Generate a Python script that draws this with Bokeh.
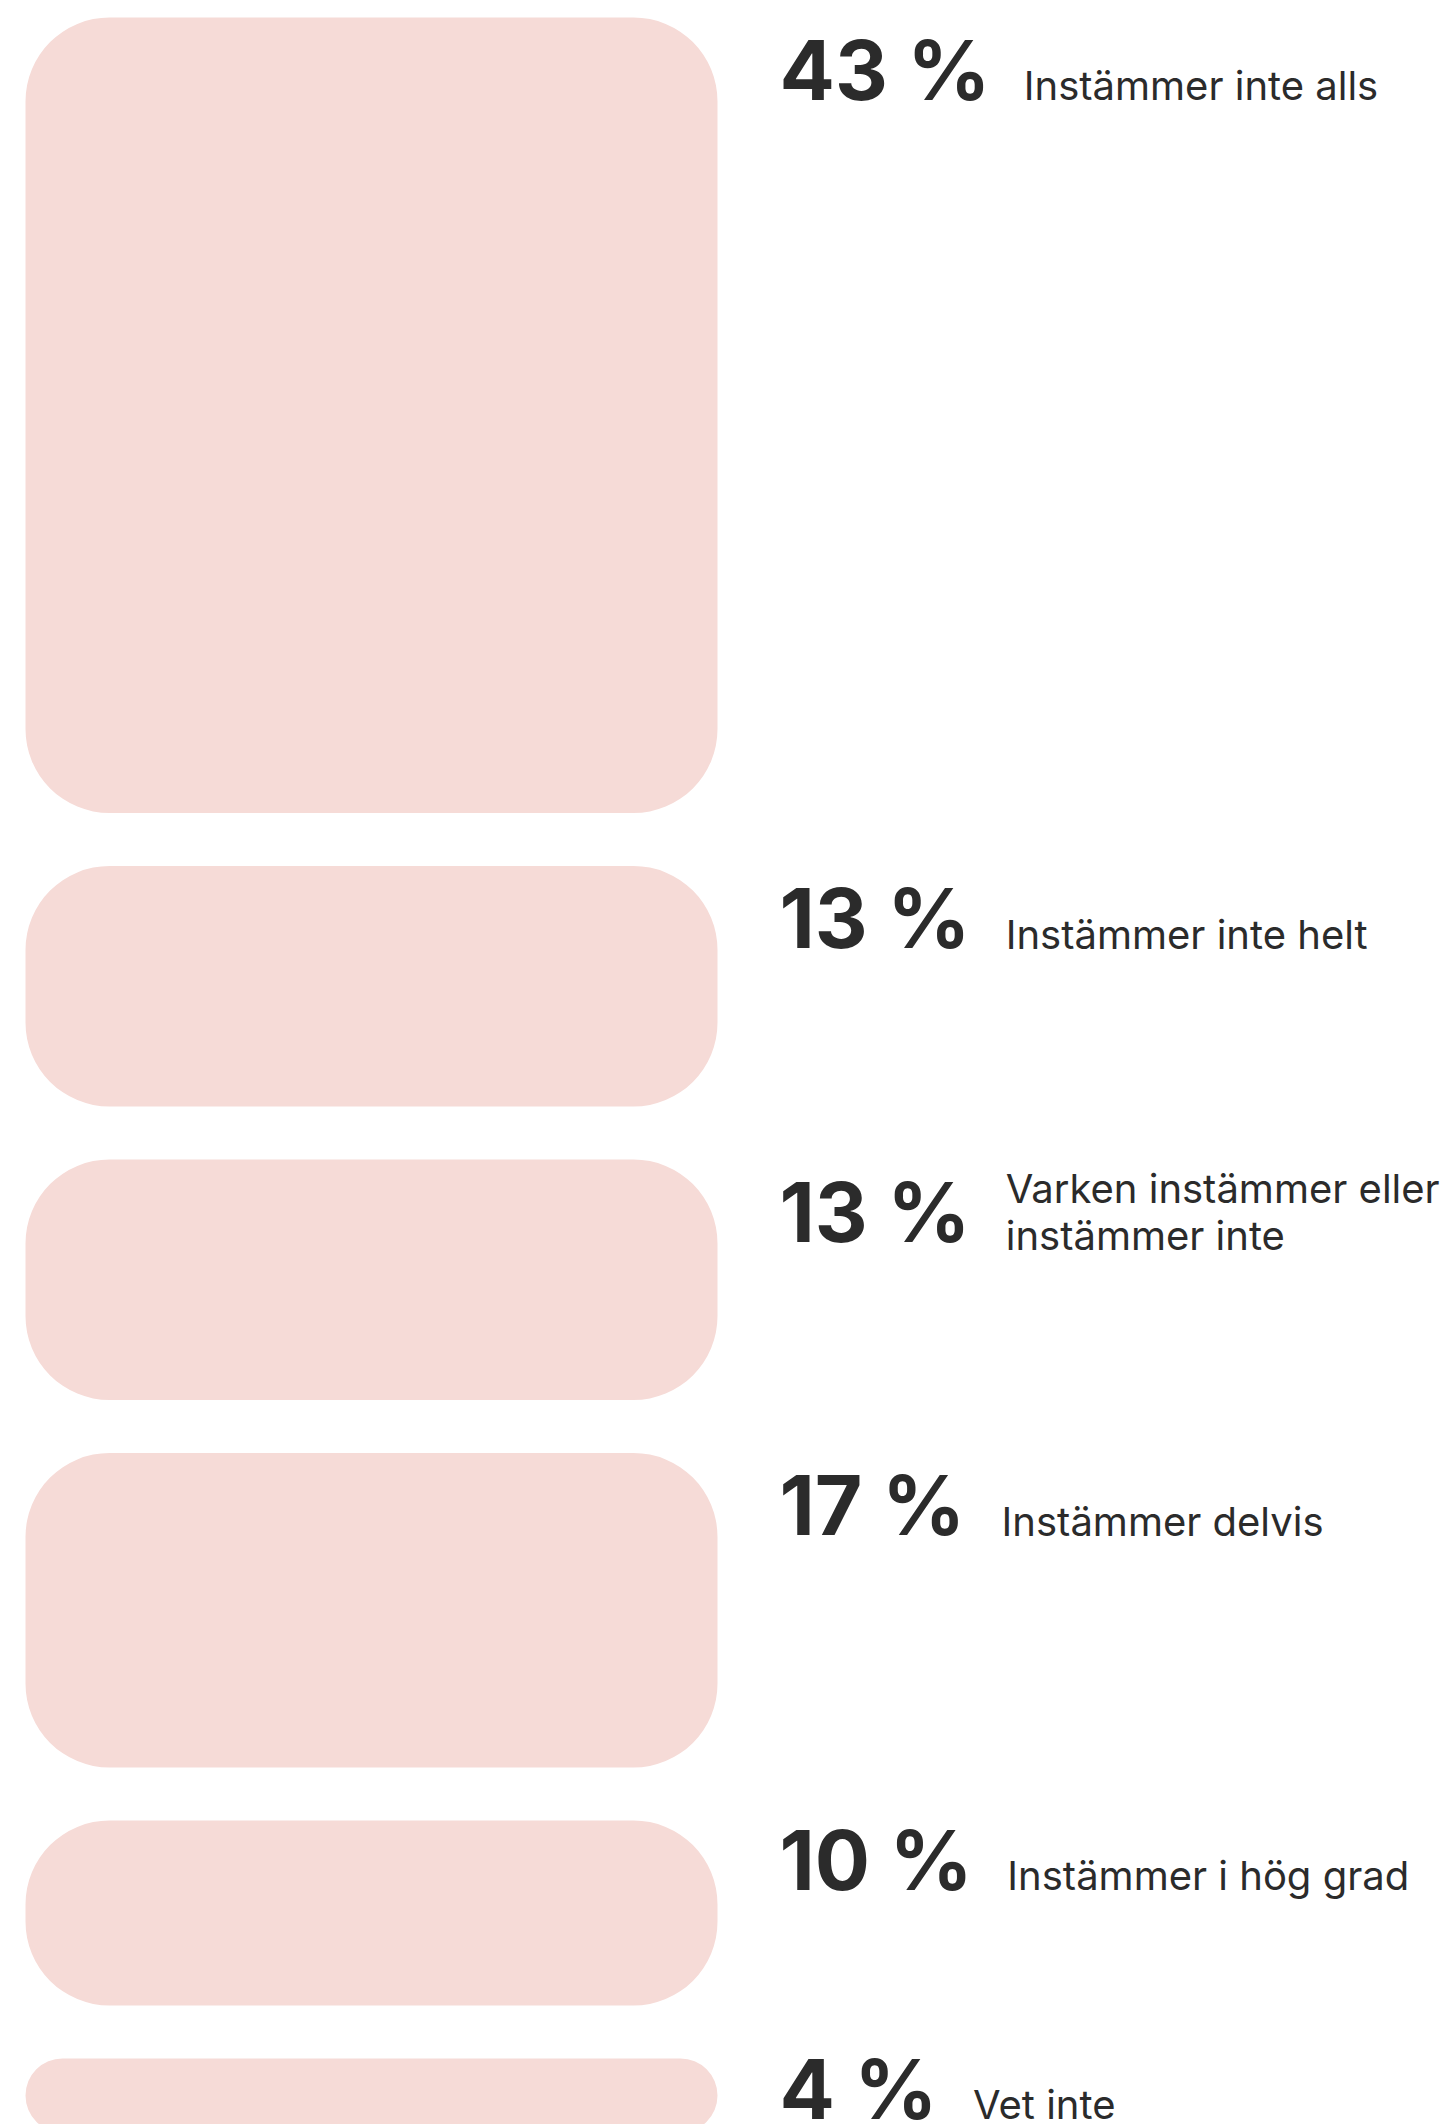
from bokeh.plotting import figure
from bokeh.models import Range1d, ColumnDataSource
from bokeh.core.properties import value
from bokeh.embed import file_html
from bokeh.resources import INLINE

# ---- data ----
shares = [43, 13, 13, 17, 10, 4]
answers = [
    "Instämmer inte alls",
    "Instämmer inte helt",
    "Varken instämmer eller\ninstämmer inte",
    "Instämmer delvis",
    "Instämmer i hög grad",
    "Vet inte",
]
share_labels = [f"{v} %" for v in shares]

# ---- layout / style ----
W, H = 1450, 2124
PX_PER_PCT = 18.5
GAP = 53
TOP = 17
BAR_L, BAR_R = 25, 717
RADIUS = 84
NUM_X = 779
NUM_SIZE = 82
CAP = 61
LBL_SIZE = 40
LBL_GAP = 45
BASE_FIX = 0.37   # em offset between requested and drawn baseline
BAR_COLOR = "#F6DBD7"
TXT_COLOR = "#2B2B2B"
FONT = "Inter"

# approximate advance widths (em) of the bold number font
ADV = {"0": 0.64, "1": 0.44, "2": 0.62, "3": 0.62, "4": 0.66, "5": 0.62,
       "6": 0.63, "7": 0.57, "8": 0.63, "9": 0.63, " ": 0.25, "%": 0.90}


def text_width(s, size):
    return sum(ADV.get(c, 0.6) for c in s) * size


p = figure(width=W, height=H, x_range=Range1d(0, W), y_range=Range1d(H, 0),
           output_backend="svg", toolbar_location=None, min_border=0)
p.axis.visible = False
p.grid.visible = False
p.outline_line_color = None
p.background_fill_color = "white"
p.border_fill_color = "white"

tops, bottoms, heights = [], [], []
y = TOP
for v in shares:
    h = v * PX_PER_PCT
    tops.append(y)
    bottoms.append(y + h)
    heights.append(h)
    y += h + GAP

for t, b, h in zip(tops, bottoms, heights):
    src = ColumnDataSource(dict(left=[BAR_L], right=[BAR_R], top=[t], bottom=[b]))
    p.quad(left="left", right="right", top="top", bottom="bottom", source=src,
           fill_color=BAR_COLOR, line_color=None,
           border_radius=int(min(RADIUS, h / 2)))

base_y, lbl_x = [], []
for t, h, s in zip(tops, heights, share_labels):
    off = min(22, max(0, (h - 167) / 2))
    base_y.append(t + off + CAP)
    lbl_x.append(NUM_X + text_width(s, NUM_SIZE) + LBL_GAP)

num_src = ColumnDataSource(dict(x=[NUM_X] * len(shares),
                                y=[b - BASE_FIX * NUM_SIZE for b in base_y],
                                text=share_labels))
p.text(x="x", y="y", text="text", source=num_src, text_font=value(FONT),
       text_font_size=f"{NUM_SIZE}px", text_font_style="bold",
       text_color=TXT_COLOR, text_align="left", text_baseline="alphabetic")

single = [i for i, a in enumerate(answers) if "\n" not in a]
multi = [i for i, a in enumerate(answers) if "\n" in a]

s1 = ColumnDataSource(dict(x=[lbl_x[i] for i in single],
                           y=[base_y[i] - BASE_FIX * LBL_SIZE for i in single],
                           text=[answers[i] for i in single]))
p.text(x="x", y="y", text="text", source=s1, text_font=value(FONT),
       text_font_size=f"{LBL_SIZE}px", text_color=TXT_COLOR,
       text_align="left", text_baseline="alphabetic")

s2 = ColumnDataSource(dict(x=[lbl_x[i] for i in multi], y=[base_y[i] - CAP / 2 for i in multi],
                           text=[answers[i] for i in multi]))
p.text(x="x", y="y", text="text", source=s2, text_font=value(FONT),
       text_font_size=f"{LBL_SIZE}px", text_color=TXT_COLOR,
       text_align="left", text_baseline="middle", text_line_height=0.97)

open("out.html", "w").write(file_html(p, INLINE))
